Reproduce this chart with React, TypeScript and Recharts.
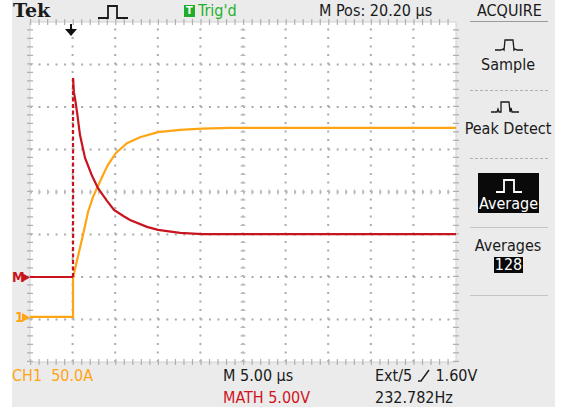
import React from "react";
import { LineChart, Line, XAxis, YAxis, ReferenceLine } from "recharts";

// time axis in microseconds (5 µs/div, 10 divisions), vertical in divisions (8 divisions)
const xGrid = [5, 10, 15, 20, 30, 35, 40, 45];
const yGrid = [-3, -2, -1, 1, 2, 3];
const xEdges = [0, 50];
const yEdges = [-4, 4];

const redBaseT = [0, 5.05];
const redBaseV = [-2, -2];
const redEdgeT = [5.05, 5.05];
const redEdgeV = [-2, 2.68];
const redDecayT = [5.05, 5.15, 5.28, 5.52, 5.87, 6.46, 7.28, 7.98, 9.04, 9.86, 11.0, 11.74, 13.73, 15.02, 17.61, 20.19, 50];
const redDecayV = [2.68, 2.35, 2.21, 1.88, 1.34, 0.8, 0.38, 0.09, -0.21, -0.42, -0.57, -0.66, -0.82, -0.89, -0.96, -0.99, -0.99];

const ch1T = [0, 5.05, 5.05, 5.4, 5.75, 6.22, 6.81, 7.39, 7.98, 8.57, 9.15, 10.09, 11.38, 12.91, 15.02, 17.61, 20.19, 23.47, 50];
const ch1V = [-2.94, -2.94, -2.02, -1.72, -1.41, -1.01, -0.47, -0.12, 0.14, 0.4, 0.64, 0.92, 1.15, 1.29, 1.41, 1.46, 1.49, 1.51, 1.51];

const zip = (t: number[], v: number[]) => t.map((x, i) => ({ t: x, v: v[i] }));
const redBase = zip(redBaseT, redBaseV);
const redEdge = zip(redEdgeT, redEdgeV);
const redDecay = zip(redDecayT, redDecayV);
const ch1 = zip(ch1T, ch1V);

const RED = "#c8141e";
const ORANGE = "#ffa514";
const GRID = "#ababab";
const FONT = "'Liberation Sans Narrow', 'DejaVu Sans Condensed', 'Arial Narrow', sans-serif";

const W = 563;
const H = 412;
const M = { top: 22, right: 107, bottom: 50, left: 30 };

const abs = (s: React.CSSProperties): React.CSSProperties => ({ position: "absolute", whiteSpace: "nowrap", ...s });

export default function App() {
  const txt: React.CSSProperties = { fontFamily: FONT, fontSize: 16, color: "#1a1a1a", lineHeight: 1 };
  return (
    <div style={{ position: "absolute", left: 0, top: 0, width: W, height: H, background: "#fff", overflow: "hidden" }}>
      <div style={abs({ left: 12, top: 0, width: 543, height: 407, background: "#ebebeb" })} />
      <div style={abs({ left: 30, top: 22, width: 426, height: 340, background: "#fff" })} />
      <div style={abs({ left: 0, top: 0 })}>
        <LineChart width={W} height={H} margin={M}>
          <XAxis type="number" dataKey="t" domain={[0, 50]} hide allowDataOverflow />
          <YAxis type="number" dataKey="v" domain={[-4, 4]} hide allowDataOverflow />
          {xGrid.map((x) => (
            <ReferenceLine key={"gx" + x} x={x} stroke={GRID} strokeWidth={2} strokeDasharray="2 6.5" />
          ))}
          {yGrid.map((y) => (
            <ReferenceLine key={"gy" + y} y={y} stroke={GRID} strokeWidth={2} strokeDasharray="2 6.52" />
          ))}
          <ReferenceLine x={25} stroke={GRID} strokeWidth={2} strokeDasharray="2 6.5" />
          <ReferenceLine y={0} stroke={GRID} strokeWidth={2} strokeDasharray="2 6.52" />
          <ReferenceLine x={25} stroke="#bdbdbd" strokeWidth={5} strokeDasharray="1.3 7.2" />
          <ReferenceLine y={0} stroke="#bdbdbd" strokeWidth={5} strokeDasharray="1.3 7.22" />
          {xEdges.map((x) => (
            <ReferenceLine key={"ex" + x} x={x} stroke="#d2d2d2" strokeWidth={1} />
          ))}
          {yEdges.map((y) => (
            <ReferenceLine key={"ey" + y} y={y} stroke="#d2d2d2" strokeWidth={1} />
          ))}
          {xEdges.map((x) => (
            <ReferenceLine key={"tx" + x} x={x} stroke="#b0b0b0" strokeWidth={6} strokeDasharray="1.2 7.3" />
          ))}
          {yEdges.map((y) => (
            <ReferenceLine key={"ty" + y} y={y} stroke="#b0b0b0" strokeWidth={6} strokeDasharray="1.2 7.32" />
          ))}
          <Line data={ch1} dataKey="v" type="linear" stroke={ORANGE} strokeWidth={2.2} dot={false} isAnimationActive={false} />
          <Line data={redBase} dataKey="v" type="linear" stroke={RED} strokeWidth={2.2} dot={false} isAnimationActive={false} />
          <Line data={redEdge} dataKey="v" type="linear" stroke={RED} strokeWidth={2.2} strokeDasharray="4 2.5" dot={false} isAnimationActive={false} />
          <Line data={redDecay} dataKey="v" type="linear" stroke={RED} strokeWidth={2.2} dot={false} isAnimationActive={false} />
        </LineChart>
      </div>

      {/* top bar */}
      <div style={abs({ left: 13, top: 0, fontFamily: "'DejaVu Serif', serif", fontWeight: 700, fontSize: 19, color: "#1a1a1a", lineHeight: "20px" })}>Tek</div>
      <svg style={abs({ left: 96, top: 3 })} width={36} height={18}>
        <polyline points="2,15 12,15 12,3 21,3 21,15 32,15" fill="none" stroke="#1a1a1a" strokeWidth={1.8} />
      </svg>
      <div style={abs({ left: 184, top: 5, width: 11, height: 12, background: "#1fae2a", color: "#fff", fontFamily: FONT, fontSize: 11, fontWeight: 700, textAlign: "center", lineHeight: "12px" })}>T</div>
      <div style={abs({ ...txt, left: 198, top: 3, color: "#22b22a" })}>Trig'd</div>
      <div style={abs({ ...txt, left: 319, top: 3 })}>M Pos: 20.20 µs</div>
      <div style={abs({ ...txt, left: 477, top: 3 })}>ACQUIRE</div>
      <div style={abs({ left: 470, top: 21, width: 78, height: 1, background: "#9a9a9a" })} />

      {/* trigger arrow */}
      <svg style={abs({ left: 64, top: 24 })} width={14} height={13}>
        <line x1={7} y1={0} x2={7} y2={8} stroke="#111" strokeWidth={2} />
        <polygon points="1,5 13,5 7,12" fill="#111" />
      </svg>

      {/* channel markers */}
      <div style={abs({ left: 12, top: 270, fontFamily: FONT, fontSize: 14, fontWeight: 700, color: RED, lineHeight: "14px" })}>M</div>
      <svg style={abs({ left: 22, top: 273 })} width={9} height={9}>
        <polygon points="0,0 8,4.5 0,9" fill={RED} />
      </svg>
      <div style={abs({ left: 15, top: 310, fontFamily: FONT, fontSize: 14, fontWeight: 700, color: ORANGE, lineHeight: "14px" })}>1</div>
      <svg style={abs({ left: 22, top: 313 })} width={9} height={9}>
        <polygon points="0,0 8,4.5 0,9" fill={ORANGE} />
      </svg>

      {/* right menu */}
      <svg style={abs({ left: 494, top: 38 })} width={30} height={14}>
        <polyline points="1,12 7,12 9,11 10,12 11,2 19,2 20,12 21,11 23,12 29,12" fill="none" stroke="#1a1a1a" strokeWidth={1.3} />
      </svg>
      <div style={abs({ ...txt, left: 458, width: 100, textAlign: "center", top: 57 })}>Sample</div>
      <div style={abs({ left: 470, top: 90, width: 78, height: 0, borderTop: "1px dashed #b0b0b0" })} />
      <svg style={abs({ left: 490, top: 100 })} width={30} height={14}>
        <polyline points="1,12 7,12 8,9 9,12 11,12 11,2 19,2 20,12 21,8 22,12 29,12" fill="none" stroke="#1a1a1a" strokeWidth={1.3} />
      </svg>
      <div style={abs({ ...txt, left: 458, width: 100, textAlign: "center", top: 121 })}>Peak Detect</div>
      <div style={abs({ left: 470, top: 158, width: 78, height: 0, borderTop: "1px dashed #b0b0b0" })} />
      <div style={abs({ left: 478, top: 173, width: 61, height: 40, background: "#0a0a0a" })} />
      <svg style={abs({ left: 494, top: 177 })} width={30} height={17}>
        <polyline points="2,15 10,15 10,3 20,3 20,15 28,15" fill="none" stroke="#fff" strokeWidth={1.8} />
      </svg>
      <div style={abs({ ...txt, color: "#fff", left: 478, width: 61, textAlign: "center", top: 196 })}>Average</div>
      <div style={abs({ left: 470, top: 227, width: 78, height: 1, background: "#c4c4c4" })} />
      <div style={abs({ ...txt, left: 458, width: 100, textAlign: "center", top: 238 })}>Averages</div>
      <div style={abs({ ...txt, left: 494, width: 29, height: 16, top: 257, background: "#0a0a0a", color: "#fff", textAlign: "center", lineHeight: "16px" })}>128</div>
      <div style={abs({ left: 470, top: 295, width: 78, height: 1, background: "#c4c4c4" })} />

      {/* bottom bar */}
      <div style={abs({ ...txt, left: 12, top: 368, color: ORANGE })}>CH1&nbsp;&nbsp;50.0A</div>
      <div style={abs({ ...txt, left: 223, top: 368 })}>M 5.00 µs</div>
      <div style={abs({ ...txt, left: 375, top: 368 })}>
        Ext/5&nbsp;
        <svg width={14} height={13} style={{ verticalAlign: "-1px" }}>
          <polyline points="1,12 4,12 12,1" fill="none" stroke="#1a1a1a" strokeWidth={1.4} />
        </svg>
        &nbsp;1.60V
      </div>
      <div style={abs({ ...txt, left: 223, top: 390, color: "#d0141e" })}>MATH 5.00V</div>
      <div style={abs({ ...txt, left: 375, top: 390 })}>232.782Hz</div>
    </div>
  );
}
